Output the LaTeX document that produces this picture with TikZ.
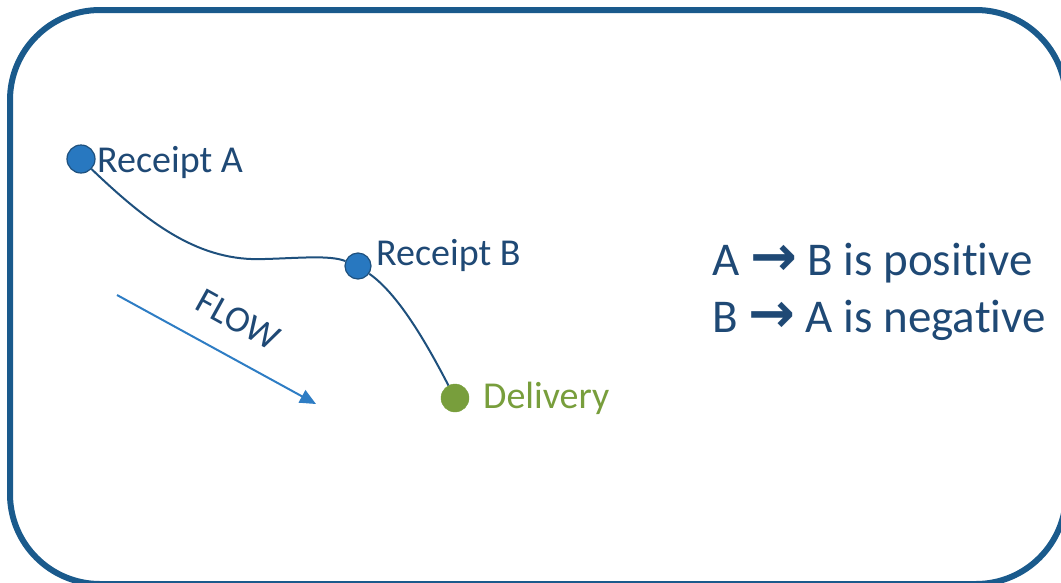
\documentclass[tikz,border=0pt]{standalone}
\usepackage{fontspec}
\setmainfont{Carlito}[Ligatures=NoCommon]
\newfontfamily\arrowfont{DejaVu Sans}
\usetikzlibrary{arrows.meta}
\definecolor{frame}{RGB}{26,90,140}
\definecolor{nodefill}{RGB}{40,120,192}
\definecolor{nodeline}{RGB}{30,80,125}
\definecolor{navy}{RGB}{31,73,117}
\definecolor{green}{RGB}{120,158,60}
\definecolor{flowblue}{RGB}{46,125,196}
\begin{document}
\begin{tikzpicture}[x=1pt,y=-1pt,
  dot/.style={circle, inner sep=0pt, minimum size=28pt, fill=nodefill, draw=nodeline, line width=1.2pt},
  gdot/.style={circle, inner sep=0pt, minimum size=28pt, fill=green, draw=green},
  lbl/.style={anchor=base west, inner sep=0pt, text=navy, font=\fontsize{38}{40}\selectfont},
  stmt/.style={anchor=base west, inner sep=0pt, text=navy, font=\fontsize{47}{50}\selectfont},
  link/.style={draw=nodeline, line width=2pt},
  flowarrow/.style={draw=flowblue, line width=2pt, -{Triangle[length=16pt,width=14pt]}}]
\useasboundingbox (0,0) rectangle (1061,582);
\clip (0,0) rectangle (1061,582);
\draw[frame, line width=6pt, rounded corners=90pt] (10,10) rectangle (1066,584);
% nodes
\node[dot] (A) at (81,159) {};
\node[dot, minimum size=26pt] (B) at (358,266) {};
\node[gdot] (D) at (455,398) {};
\coordinate (M) at (265,259);
\draw[link] (A) .. controls (150,225) and (200,262) .. (M) .. controls (300,258) and (330,255) .. (B);
\draw[link] (B) .. controls (400,295) and (430,350) .. (D);
% labels
\node[lbl] (la) at (97,172) {Receipt A};
\node[lbl] (lb) at (376,265) {Receipt B};
\node[lbl, text=green] (ld) at (483,408) {Delivery};
% flow
\coordinate (f1) at (117,295);
\coordinate (f2) at (316,404);
\draw[flowarrow] (f1) -- (f2);
\node[inner sep=0pt, text=navy, rotate=-29, font=\fontsize{37}{38}\selectfont] (flow) at (238,320) {FLOW};
% statements
\node[stmt] (s1) at (712,275) {A {\arrowfont\bfseries\fontsize{56}{56}\selectfont →} B is positive};
\node[stmt] (s2) at (712,332) {B {\arrowfont\bfseries\fontsize{56}{56}\selectfont →} A is negative};
\end{tikzpicture}
\end{document}
